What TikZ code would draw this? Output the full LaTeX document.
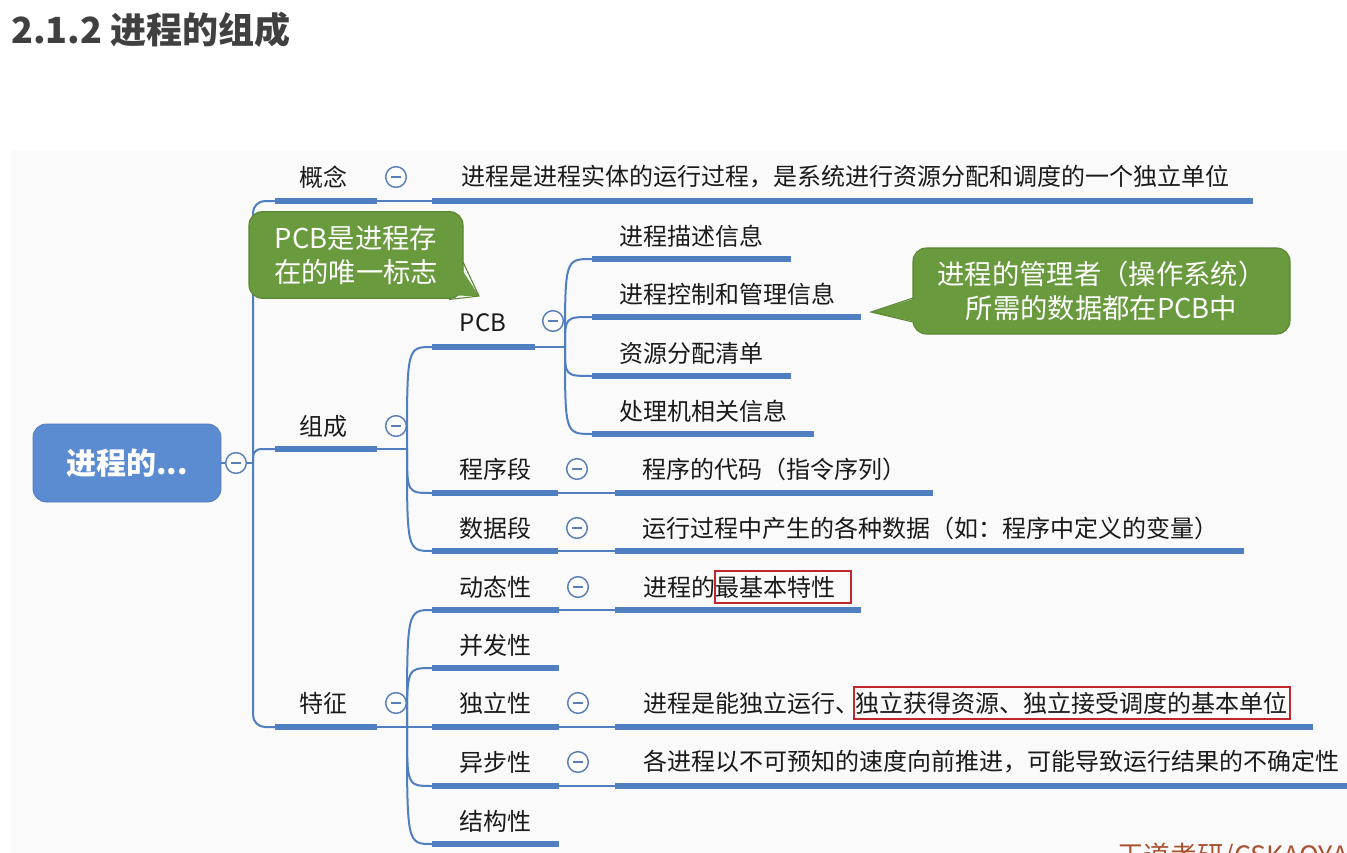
\documentclass[tikz,border=0pt]{standalone}
\usepackage{fontspec}
\setmainfont{Noto Sans CJK SC}
\definecolor{barblue}{HTML}{4F7FC0}
\definecolor{rootblue}{HTML}{5B8BD0}
\definecolor{gfill}{HTML}{6A9A3E}
\definecolor{gdraw}{HTML}{5A8632}
\definecolor{txt}{HTML}{1A1A1A}
\definecolor{titlec}{HTML}{404040}
\definecolor{redbox}{HTML}{C0272D}
\definecolor{wm}{HTML}{A8502F}
\definecolor{circ}{HTML}{5A7FB8}
\definecolor{panel}{HTML}{FAFAFA}
\tikzset{
  bar/.style={draw=barblue, line width=4.5pt},
  thin/.style={draw=barblue, line width=1.5pt},
  lbl/.style={font=\fontsize{18}{21}\selectfont, text=txt, inner sep=0pt},
  desc/.style={lbl, anchor=west},
  tog/.style={circle, draw=circ, fill=white, line width=1.1pt, minimum size=15.5pt, inner sep=0pt,
    path picture={\draw[circ, line width=1pt] ([xshift=-3.6pt]path picture bounding box.center) -- ([xshift=3.6pt]path picture bounding box.center);}},
  hlbox/.style={lbl, draw=redbox, line width=1.5pt, inner xsep=1pt, inner ysep=4pt},
  callout/.style={fill=gfill, draw=gdraw, line width=0.8pt, rounded corners=10pt, text=white,
    font=\fontsize{20.5}{25}\selectfont, align=center, inner sep=0pt},
}
\begin{document}
\begin{tikzpicture}[x=0.75pt,y=-0.75pt]
\useasboundingbox (0,0) rectangle (1347,853);
\clip (0,0) rectangle (1347,853);
\fill[white] (0,0) rectangle (1347,853);
\fill[panel] (11,150) rectangle (1347,853);

% title
\node[anchor=west, inner sep=0pt, text=titlec, font=\fontsize{27}{32}\selectfont\bfseries] (title) at (11,30) {2.1.2 进程的组成};

% root
\node[fill=rootblue, draw=rootblue!90!black, line width=0.6pt, rounded corners=10pt, minimum width=141pt, minimum height=58.5pt,
      text=white, font=\fontsize{22.5}{26}\selectfont\bfseries] (root) at (127,463) {进程的...};
\node[tog] (t0) at (236,463) {};
\draw[thin] (root.east) -- (t0.west);

% trunk coordinates
\coordinate (tr) at (253,463);
\coordinate (k1s) at (275,201); \coordinate (k1e) at (377,201);
\coordinate (k2s) at (275,449); \coordinate (k2e) at (377,449);
\coordinate (k3s) at (275,727); \coordinate (k3e) at (377,727);
\draw[thin] (t0.east) -- (tr);
\draw[thin, rounded corners=9pt] (tr) -- (253,201) -- (k1s);
\draw[thin, rounded corners=9pt] (tr) -- (253,727) -- (k3s);
\draw[thin, rounded corners=6pt] (tr) -- (253,449) -- (k2s);

% level 1
\node[lbl] (l1) at (323,177) {概念};
\draw[bar] (k1s) -- (k1e);
\node[tog] (t1) at (396,177) {};
\coordinate (d1s) at (432,201); \coordinate (d1e) at (1253,201);
\draw[thin] (k1e) -- (d1s);
\draw[bar] (d1s) -- (d1e);
\node[desc] (d1) at (461,177) {进程是进程实体的运行过程，是系统进行资源分配和调度的一个独立单位};

\node[lbl] (l2) at (323,426) {组成};
\draw[bar] (k2s) -- (k2e);
\node[tog] (t2) at (396,426) {};
\coordinate (f2) at (407,449);
\draw[thin] (k2e) -- (f2);

\node[lbl] (l3) at (323,703) {特征};
\draw[bar] (k3s) -- (k3e);
\node[tog] (t3) at (396,703) {};
\coordinate (f3) at (407,727);
\draw[thin] (k3e) -- (f3);

% level 2 under 组成
\coordinate (p1s) at (432,347); \coordinate (p1e) at (535,347);
\coordinate (p2s) at (432,493); \coordinate (p2e) at (558,493);
\coordinate (p3s) at (432,551); \coordinate (p3e) at (558,551);
\draw[thin] (f2) .. controls (407,347) .. (p1s);
\draw[thin] (f2) .. controls (407,493) .. (p2s);
\draw[thin] (f2) .. controls (407,551) .. (p3s);

\node[lbl] (pcb) at (483,323) {PCB};
\draw[bar] (p1s) -- (p1e);
\node[tog] (tp) at (553,321) {};
\coordinate (fp) at (565,347);
\draw[thin] (p1e) -- (fp);

\node[lbl] (cxd) at (495,469) {程序段};
\draw[bar] (p2s) -- (p2e);
\node[tog] (tc) at (577,469) {};
\coordinate (q2s) at (615,493); \coordinate (q2e) at (933,493);
\draw[thin] (p2e) -- (q2s);
\draw[bar] (q2s) -- (q2e);
\node[desc] (dc) at (642,469) {程序的代码（指令序列）};

\node[lbl] (sjd) at (495,528) {数据段};
\draw[bar] (p3s) -- (p3e);
\node[tog] (ts) at (577,528) {};
\coordinate (q3s) at (615,551); \coordinate (q3e) at (1244,551);
\draw[thin] (p3e) -- (q3s);
\draw[bar] (q3s) -- (q3e);
\node[desc] (ds) at (642,528) {运行过程中产生的各种数据（如：程序中定义的变量）};

% PCB children
\coordinate (c1s) at (592,259); \coordinate (c1e) at (791,259);
\coordinate (c2s) at (592,317); \coordinate (c2e) at (861,317);
\coordinate (c3s) at (592,376); \coordinate (c3e) at (791,376);
\coordinate (c4s) at (592,434); \coordinate (c4e) at (814,434);
\draw[thin] (fp) .. controls (565,259) .. (c1s);
\draw[thin] (fp) .. controls (565,317) .. (c2s);
\draw[thin] (fp) .. controls (565,376) .. (c3s);
\draw[thin] (fp) .. controls (565,434) .. (c4s);
\draw[bar] (c1s) -- (c1e);
\draw[bar] (c2s) -- (c2e);
\draw[bar] (c3s) -- (c3e);
\draw[bar] (c4s) -- (c4e);
\node[desc] (pc1) at (619,236) {进程描述信息};
\node[desc] (pc2) at (619,294) {进程控制和管理信息};
\node[desc] (pc3) at (619,353) {资源分配清单};
\node[desc] (pc4) at (619,411) {处理机相关信息};

% level 2 under 特征
\coordinate (r1s) at (432,610); \coordinate (r1e) at (559,610);
\coordinate (r2s) at (432,668); \coordinate (r2e) at (559,668);
\coordinate (r3s) at (432,727); \coordinate (r3e) at (559,727);
\coordinate (r4s) at (432,786); \coordinate (r4e) at (559,786);
\coordinate (r5s) at (432,844); \coordinate (r5e) at (559,844);
\draw[thin] (f3) .. controls (407,610) .. (r1s);
\draw[thin] (f3) .. controls (407,668) .. (r2s);
\draw[thin] (f3) -- (r3s);
\draw[thin] (f3) .. controls (407,786) .. (r4s);
\draw[thin] (f3) .. controls (407,844) .. (r5s);
\draw[bar] (r1s) -- (r1e);
\draw[bar] (r2s) -- (r2e);
\draw[bar] (r3s) -- (r3e);
\draw[bar] (r4s) -- (r4e);
\draw[bar] (r5s) -- (r5e);
\node[lbl] (tz1) at (495,587) {动态性};
\node[lbl] (tz2) at (495,645) {并发性};
\node[lbl] (tz3) at (495,703) {独立性};
\node[lbl] (tz4) at (495,762) {异步性};
\node[lbl] (tz5) at (495,821) {结构性};
\node[tog] (tt1) at (578,587) {};
\node[tog] (tt3) at (578,703) {};
\node[tog] (tt4) at (578,762) {};

\coordinate (s1s) at (615,610); \coordinate (s1e) at (861,610);
\coordinate (s3s) at (615,727); \coordinate (s3e) at (1313,727);
\coordinate (s4s) at (615,786); \coordinate (s4e) at (1347,786);
\draw[thin] (r1e) -- (s1s); \draw[bar] (s1s) -- (s1e);
\draw[thin] (r3e) -- (s3s); \draw[bar] (s3s) -- (s3e);
\draw[thin] (r4e) -- (s4s); \draw[bar] (s4s) -- (s4e);

\node[desc] (dd1) at (643,587) {进程的};
\node[hlbox, anchor=west] (hl1) at ([xshift=-1.5pt]dd1.east) {最基本特性\rule{10pt}{0pt}};
\node[desc] (dd3) at (643,703) {进程是能独立运行、};
\node[hlbox, anchor=west] (hl3) at ([xshift=-5pt]dd3.east) {独立获得资源、独立接受调度的基本单位\rule{1pt}{0pt}};
\node[desc] (dd4) at (643,762) {各进程以不可预知的速度向前推进，可能导致运行结果的不确定性};

% callouts
\node[callout, minimum width=160.5pt, minimum height=65pt] (cb1) at (356,255) {PCB是进程存\\在的唯一标志};
\coordinate (cb1a) at (463,262); \coordinate (cb1tip) at (479,296); \coordinate (cb1b) at (449,299.5);
\fill[gfill] ([shift={(-6,0)}]cb1a) -- (cb1tip) -- ([shift={(0,-4)}]cb1b) -- (440,280) -- cycle;
\draw[gdraw, line width=0.8pt] (cb1a) -- (cb1tip) -- (cb1b);

\node[callout, minimum width=282.75pt, minimum height=64.5pt] (cb2) at (1101.5,291) {进程的管理者（操作系统）\\所需的数据都在PCB中};
\coordinate (cb2a) at (913,298); \coordinate (cb2tip) at (871,312); \coordinate (cb2b) at (913,322);
\fill[gfill] ([shift={(3,0)}]cb2a) -- (cb2tip) -- ([shift={(3,0)}]cb2b) -- cycle;
\draw[gdraw, line width=0.8pt] (cb2a) -- (cb2tip) -- (cb2b);

% watermark (cut off at the lower edge, as in the reference)
\node[anchor=west, inner sep=0pt, text=wm, font=\fontsize{20}{24}\selectfont] (wmk) at (1117,857) {王道考研/CSKAOYAN};
\end{tikzpicture}
\end{document}
